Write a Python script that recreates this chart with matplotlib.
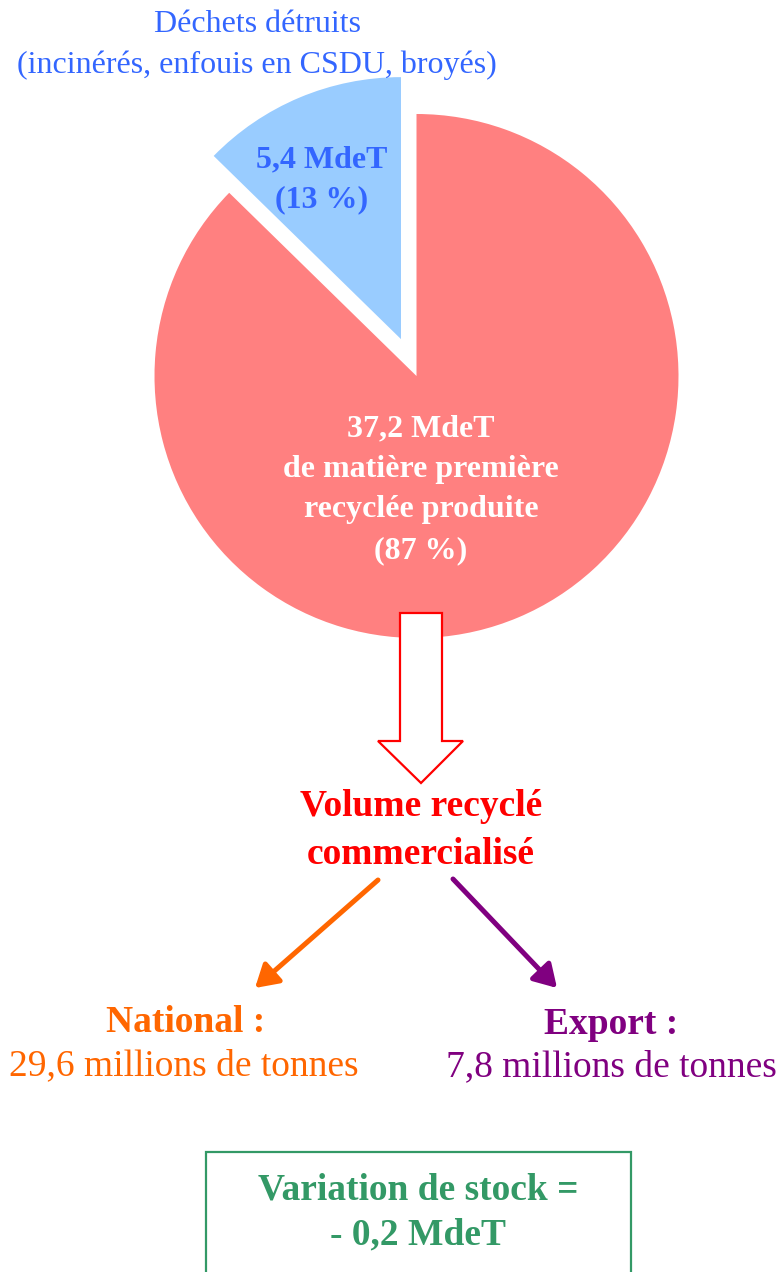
import matplotlib
matplotlib.use("Agg")
import matplotlib.pyplot as plt
from matplotlib.patches import Polygon, Rectangle, FancyArrowPatch

# ---- data ----
slice_names = ["Déchets détruits", "Matière première recyclée"]
slice_values = [5.4, 37.2]          # MdeT
slice_percents = [13, 87]
slice_colors = ["#99CCFF", "#FF8080"]
national_mt = 29.6
export_mt = 7.8
stock_variation = -0.2

W, H = 780, 1272
SERIF = ["Liberation Serif", "DejaVu Serif"]
DY = 3  # vertical text offset

def fr(v):
    return f"{v:.1f}".replace(".", ",")

def Y(py):
    return H - py

def T(py):
    return H - py - DY

fig = plt.figure(figsize=(W / 100, H / 100), dpi=100)
ax = fig.add_axes([0, 0, 1, 1])

# pie (explode is in data units here: pixels)
ax.pie(slice_values, colors=slice_colors, startangle=90, counterclock=True,
       explode=[40, 0.0], radius=262, center=(416.5, Y(376)),
       wedgeprops=dict(linewidth=0))

ax.set_xlim(0, W)
ax.set_ylim(0, H)
ax.set_aspect("equal")
ax.axis("off")

blue_txt = "#3366FF"
# top label
ax.text(257, T(22), "Déchets détruits", ha="center", va="center",
        fontsize=23, color=blue_txt, family=SERIF)
ax.text(257, T(62), "(incinérés, enfouis en CSDU, broyés)", ha="center",
        va="center", fontsize=23, color=blue_txt, family=SERIF)

# blue slice label
ax.text(322, T(157), f"{fr(slice_values[0])} MdeT", ha="center", va="center",
        fontsize=23, color=blue_txt, fontweight="bold", family=SERIF)
ax.text(322, T(197), f"({slice_percents[0]} %)", ha="center", va="center",
        fontsize=23, color=blue_txt, fontweight="bold", family=SERIF)

# red slice label
red_lines = [f"{fr(slice_values[1])} MdeT", "de matière première",
             "recyclée produite", f"({slice_percents[1]} %)"]
for txt, py in zip(red_lines, [426, 467, 507, 548]):
    ax.text(421, T(py), txt, ha="center", va="center", fontsize=23,
            color="white", fontweight="bold", family=SERIF)

# hollow block arrow
pts = [(400, 613), (442, 613), (442, 741), (463, 741), (421, 783),
       (378, 741), (400, 741)]
ax.add_patch(Polygon([(x, Y(y)) for x, y in pts], closed=True,
                     facecolor="white", edgecolor="#FF0000", linewidth=1.6,
                     zorder=5))

ax.text(421, T(803), "Volume recyclé", ha="center", va="center", fontsize=27,
        color="#FF0000", fontweight="bold", family=SERIF)
ax.text(421, T(851), "commercialisé", ha="center", va="center", fontsize=27,
        color="#FF0000", fontweight="bold", family=SERIF)

# branch arrows
for (x0, y0), (x1, y1), col in [((378, 880), (255, 988), "#FF6600"),
                                ((453, 879), (557, 988), "#800080")]:
    arr = FancyArrowPatch((x0, Y(y0)), (x1, Y(y1)),
                          arrowstyle="-|>,head_length=0.75,head_width=0.45",
                          mutation_scale=18, color=col, linewidth=3.6,
                          shrinkA=0, shrinkB=0)
    ax.add_patch(arr)

ax.text(186, T(1020), "National :", ha="center", va="center", fontsize=27,
        color="#FF6600", fontweight="bold", family=SERIF)
ax.text(184, T(1063), f"{fr(national_mt)} millions de tonnes", ha="center",
        va="center", fontsize=27, color="#FF6600", family=SERIF)
ax.text(611, T(1021), "Export :", ha="center", va="center", fontsize=27,
        color="#800080", fontweight="bold", family=SERIF)
ax.text(611, T(1064), f"{fr(export_mt)} millions de tonnes", ha="center",
        va="center", fontsize=27, color="#800080", family=SERIF)

# stock box
green = "#339966"
ax.add_patch(Rectangle((206, Y(1300)), 631 - 206, 1300 - 1152, fill=False,
                       edgecolor=green, linewidth=1.6))
ax.text(418, T(1187), "Variation de stock =", ha="center", va="center",
        fontsize=27, color=green, fontweight="bold", family=SERIF)
sv = fr(abs(stock_variation))
ax.text(418, T(1232), f"- {sv} MdeT", ha="center", va="center",
        fontsize=27, color=green, fontweight="bold", family=SERIF)

fig.savefig("out.png", dpi=100)
